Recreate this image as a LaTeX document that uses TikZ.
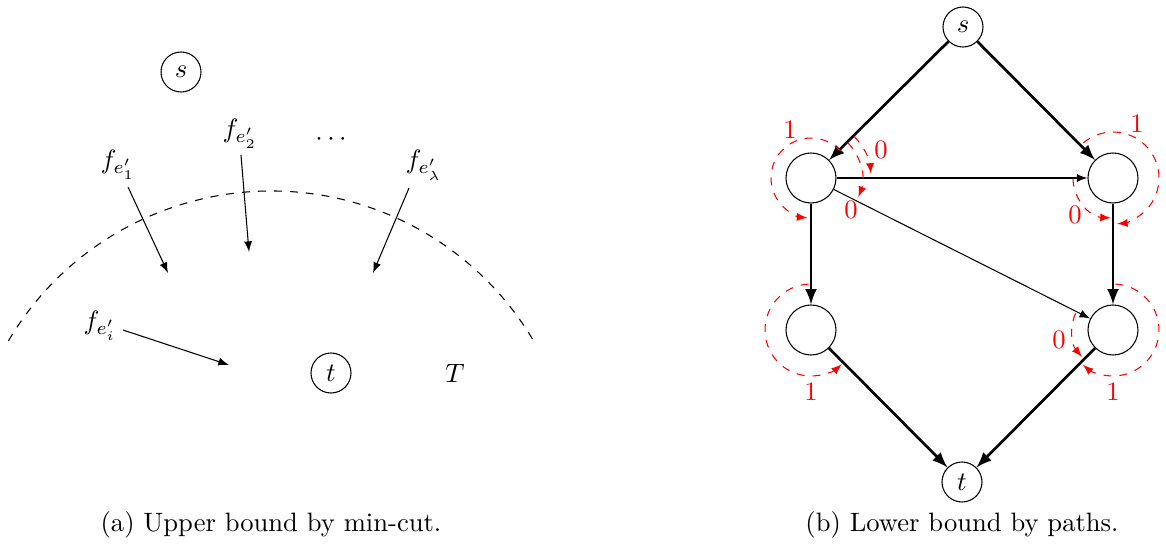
\documentclass[tikz,border=0pt]{standalone}
\usetikzlibrary{arrows}
\begin{document}
\begin{tikzpicture}[x=0.376pt,y=0.376pt,
  small/.style={draw,circle,inner sep=0pt,minimum size=40*0.376pt},
  big/.style={draw,circle,inner sep=0pt,minimum size=50*0.376pt},
  thin arrow/.style={-latex,line width=0.4pt},
  thick arrow/.style={-latex,line width=1pt},
  flow/.style={red,dashed,-latex,line width=0.4pt},
  lab/.style={red,inner sep=0pt},
  captext/.style={inner sep=0pt,anchor=base}]
\useasboundingbox (0,0) rectangle (1166,-545);
% ---------- left: upper bound ----------
\node[small] (s1) at (181,-72) {$s$};
\node[small] (t1) at (331,-373) {$t$};
\node (T) at (455,-373) {$T$};
\node (f2) at (240,-134) {$f_{e'_2}$};
\node (dots) at (331,-140) {$\cdots$};
\node (f1) at (118,-165) {$f_{e'_1}$};
\node (fl) at (424,-165) {$f_{e'_\lambda}$};
\node (fi) at (100,-326) {$f_{e'_i}$};
\coordinate (a1s) at (128,-187); \coordinate (a1e) at (168,-273);
\coordinate (a2s) at (241,-155); \coordinate (a2e) at (249,-252);
\coordinate (a3s) at (409,-188); \coordinate (a3e) at (373,-273);
\coordinate (a4s) at (123,-330); \coordinate (a4e) at (229,-365);
\draw[thin arrow] (a1s) -- (a1e);
\draw[thin arrow] (a2s) -- (a2e);
\draw[thin arrow] (a3s) -- (a3e);
\draw[thin arrow] (a4s) -- (a4e);
\coordinate (cc) at (271,-496);
\draw[dashed] (cc) ++(149.4:305) arc[start angle=149.4,end angle=30.6,radius=305];
\node[captext] (capa) at (271,-531) {(a) Upper bound by min-cut.};
% ---------- right: lower bound ----------
\node[small] (s2) at (963,-27) {$s$};
\node[big] (A) at (811,-178) {};
\node[big] (B) at (1113,-178) {};
\node[big] (C) at (811,-330) {};
\node[big] (D) at (1113,-330) {};
\node[small] (t2) at (962,-482) {$t$};
\draw[thick arrow] (s2) -- (A);
\draw[thick arrow] (s2) -- (B);
\draw[thick arrow] (A) -- (C);
\draw[thick arrow] (B) -- (D);
\draw[thick arrow] (C) -- (t2);
\draw[thick arrow] (D) -- (t2);
\draw[thin arrow] (A) -- (B);
\draw[thin arrow] (A) -- (D);
% flow arcs
\draw[flow] (A.center) ++(42:40) arc[start angle=42,end angle=265,radius=40];
\draw[flow] (A.center) ++(44:60) arc[start angle=44,end angle=4,radius=60];
\draw[flow] (A.center) ++(44:51) arc[start angle=44,end angle=-22,radius=51];
\draw[flow] (B.center) ++(130:46) arc[start angle=130,end angle=-85,radius=46];
\draw[flow] (B.center) ++(181:40) arc[start angle=181,end angle=267,radius=40];
\draw[flow] (C.center) ++(93:46) arc[start angle=93,end angle=312,radius=46];
\draw[flow] (D.center) ++(87:46) arc[start angle=87,end angle=-131,radius=46];
\draw[flow] (D.center) ++(156:41) arc[start angle=156,end angle=221,radius=41];
\node[lab] (lA1) at (790,-130) {1};
\node[lab] (lA0a) at (881,-150) {0};
\node[lab] (lA0b) at (851,-210) {0};
\node[lab] (lB1) at (1137,-124) {1};
\node[lab] (lB0) at (1075,-215) {0};
\node[lab] (lC1) at (811,-392) {1};
\node[lab] (lD1) at (1113,-392) {1};
\node[lab] (lD0) at (1059,-340) {0};
\node[captext] (capb) at (962,-531) {(b) Lower bound by paths.};
\end{tikzpicture}
\end{document}
